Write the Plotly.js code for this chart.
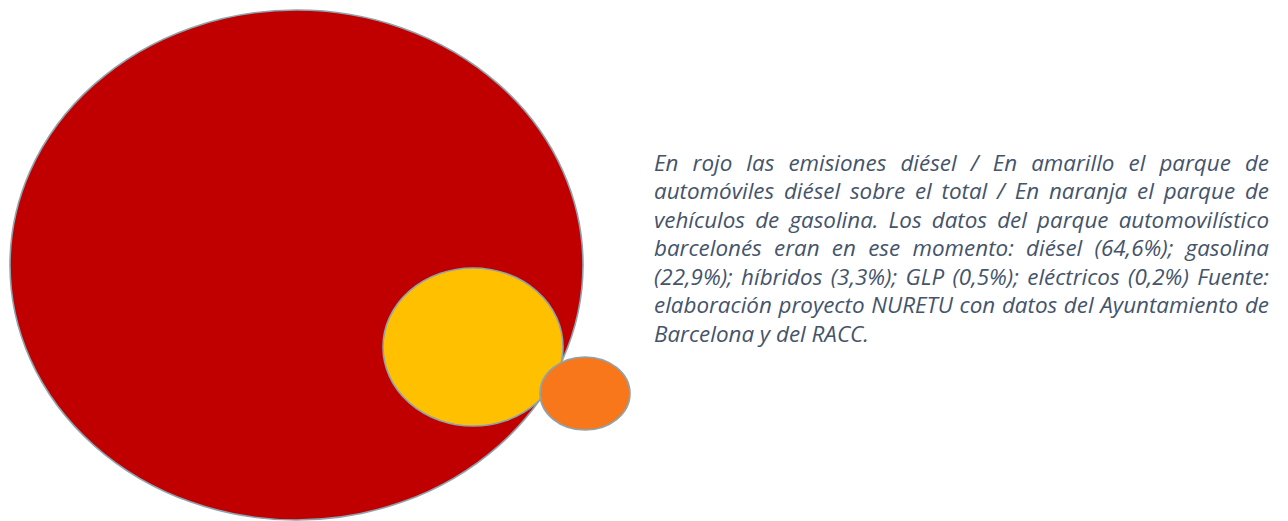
<!DOCTYPE html>
<html>
<head>
<meta charset="utf-8">
<script src="https://cdn.plot.ly/plotly-3.0.1.min.js"></script>
<style>
  html, body { margin: 0; padding: 0; background: #ffffff; }
  #chart { width: 1288px; height: 521px; }
</style>
</head>
<body>
<div id="chart"></div>
<script>
// ---- Data ----
const circleLabels = ['Emisiones diésel', 'Parque diésel', 'Parque gasolina'];
const circleCenterX = [296.5, 473, 585];
const circleCenterY = [265, 347, 393.5];
const circleRadiusX = [286.5, 90, 45];
const circleRadiusY = [255, 79, 36.5];
const circleColors = ['#C00000', '#FFC000', '#F8771A'];

const captionLines = [
  'En rojo las emisiones diésel / En amarillo el parque de',
  'automóviles diésel sobre el total / En naranja el parque de',
  'vehículos de gasolina. Los datos del parque automovilístico',
  'barcelonés eran en ese momento: diésel (64,6%); gasolina',
  '(22,9%); híbridos (3,3%); GLP (0,5%); eléctricos (0,2%) Fuente:',
  'elaboración proyecto NURETU con datos del Ayuntamiento de',
  'Barcelona y del RACC.'
];

// ---- Build figure ----
const shapes = circleLabels.map((lab, i) => ({
  type: 'circle',
  xref: 'x', yref: 'y',
  x0: circleCenterX[i] - circleRadiusX[i],
  x1: circleCenterX[i] + circleRadiusX[i],
  y0: circleCenterY[i] - circleRadiusY[i],
  y1: circleCenterY[i] + circleRadiusY[i],
  fillcolor: circleColors[i],
  line: { color: '#8DA3AD', width: 1.6 },
  layer: 'above'
}));

const textLeft = 653;
const textRight = 1268;
const firstLineY = 162;
const lineStep = 28.5;
let fontSize = 24;

function makeAnnotations(size) {
  return captionLines.map((t, i) => ({
    xref: 'x', yref: 'y',
    x: textLeft, y: firstLineY + i * lineStep,
    xanchor: 'left', yanchor: 'middle',
    align: 'left',
    showarrow: false,
    borderpad: 0,
    text: t,
    font: { family: '"Open Sans", "Noto Sans", sans-serif', size: size, color: '#44546A', style: 'italic' }
  }));
}

const trace = {
  type: 'scatter',
  mode: 'markers',
  x: circleCenterX,
  y: circleCenterY,
  text: circleLabels,
  hoverinfo: 'text',
  marker: { size: 1, opacity: 0 },
  showlegend: false
};

const layout = {
  width: 1288, height: 521,
  margin: { l: 0, r: 0, t: 0, b: 0, pad: 0 },
  paper_bgcolor: '#ffffff',
  plot_bgcolor: '#ffffff',
  xaxis: { range: [0, 1288], visible: false, fixedrange: true },
  yaxis: { range: [521, 0], visible: false, fixedrange: true },
  shapes: shapes,
  annotations: makeAnnotations(fontSize),
  showlegend: false
};

function justify(gd) {
  const texts = gd.querySelectorAll('.annotation-text');
  const target = textRight - textLeft;
  texts.forEach((el, idx) => {
    if (idx === texts.length - 1) return;
    el.style.wordSpacing = '0px';
    const w = el.getComputedTextLength();
    const spaces = (el.textContent.match(/ /g) || []).length;
    if (spaces > 0 && w < target) {
      el.style.wordSpacing = ((target - w) / spaces) + 'px';
    }
  });
}

Plotly.newPlot('chart', [trace], layout, { displayModeBar: false, staticPlot: true }).then(gd => {
  // fit the widest line into the text block, then justify
  const texts = gd.querySelectorAll('.annotation-text');
  let maxW = 0;
  texts.forEach(el => { maxW = Math.max(maxW, el.getComputedTextLength()); });
  const fitWidth = textRight - textLeft - 4;
  if (maxW > fitWidth) {
    fontSize = Math.floor(fontSize * fitWidth / maxW * 10) / 10;
    return Plotly.relayout(gd, { annotations: makeAnnotations(fontSize) }).then(() => justify(gd));
  }
  justify(gd);
});
</script>
</body>
</html>
